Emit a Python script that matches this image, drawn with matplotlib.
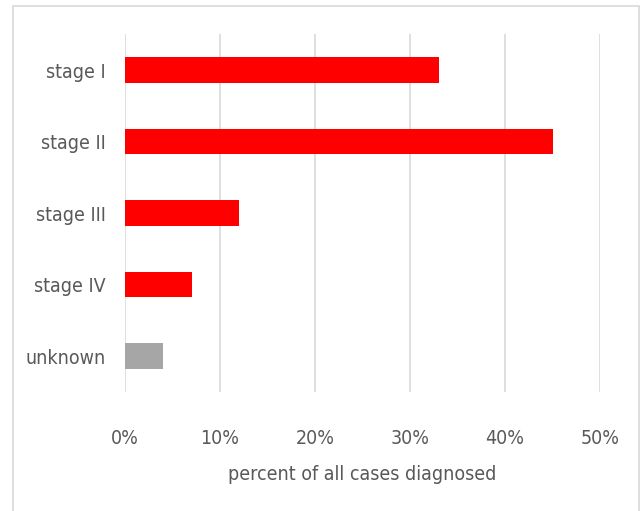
import matplotlib.pyplot as plt
from matplotlib.patches import Rectangle
from matplotlib.ticker import PercentFormatter

stages = ['stage I', 'stage II', 'stage III', 'stage IV', 'unknown']
percent = [33, 45, 12, 7, 4]
colors = ['#ff0000', '#ff0000', '#ff0000', '#ff0000', '#a6a6a6']
ticks = [0, 10, 20, 30, 40, 50]

plt.rcParams['font.family'] = ['DejaVu Sans']
plt.rcParams['font.stretch'] = 'condensed'
txt = '#595959'

fig = plt.figure(figsize=(6.43, 5.11), dpi=100)
ax = fig.add_axes([125 / 643, 1 - 391.75 / 511, 475 / 643, 357.5 / 511])

ax.barh(stages, percent, height=0.35, color=colors, zorder=3)
ax.set_ylim(4.5, -0.5)
ax.set_xlim(0, 50)
ax.set_xticks(ticks)
ax.xaxis.set_major_formatter(PercentFormatter(decimals=0))
ax.grid(axis='x', color='#d9d9d9', linewidth=1.2, zorder=0)
for s in ax.spines.values():
    s.set_visible(False)
ax.tick_params(axis='both', length=0, labelsize=14, labelcolor=txt)
ax.tick_params(axis='x', pad=27)
ax.tick_params(axis='y', pad=14)
ax.set_xlabel('percent of all cases diagnosed', fontsize=14, color=txt, labelpad=12)

# cadre extérieur
fig.patches.append(Rectangle((13 / 643, -0.01), 626 / 643, 1 - 6 / 511 + 0.01,
                             transform=fig.transFigure, fill=False,
                             edgecolor='#d9d9d9', linewidth=1.2))

fig.savefig('out.png', dpi=100)
